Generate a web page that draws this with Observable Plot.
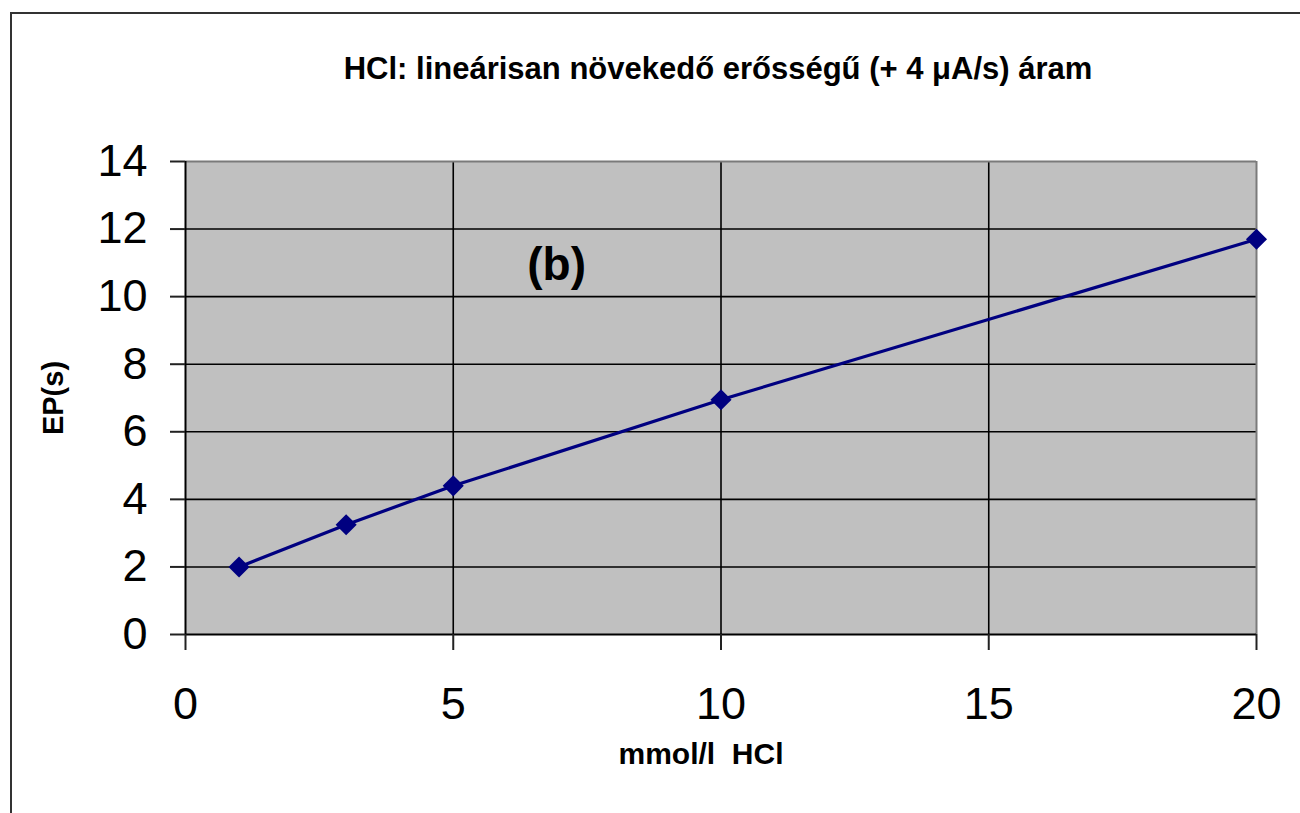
<!DOCTYPE html>
<html>
<head>
<meta charset="utf-8">
<script src="https://cdn.jsdelivr.net/npm/d3@7"></script>
<script src="https://cdn.jsdelivr.net/npm/@observablehq/plot@0.6"></script>
<style>
  html, body { margin: 0; padding: 0; background: #fff; }
  #wrap { position: relative; width: 1300px; height: 813px; overflow: hidden; font-family: "Liberation Sans", Arial, sans-serif; }
  #border { position: absolute; left: 10px; top: 12px; width: 1400px; height: 900px; border-top: 2px solid #333; border-left: 2px solid #333; }
  #title { position: absolute; left: 0; top: 53px; width: 1436px; text-align: center; font-size: 31px; line-height: 1; font-weight: bold; color: #000; }
  #chart { position: absolute; left: 0; top: 0; }
</style>
</head>
<body>
<div id="wrap">
  <div id="border"></div>
  <div id="title">HCl: lineárisan növekedő erősségű (+ 4 μA/s) áram</div>
  <div id="chart"></div>
</div>
<script>
// Measured end point vs. HCl concentration
const concentration = [1, 3, 5, 10, 20];   // mmol/l HCl
const endPoint = [2.0, 3.25, 4.4, 6.95, 11.7]; // EP (s)

const xTicks = [0, 5, 10, 15, 20];
const yTicks = [0, 2, 4, 6, 8, 10, 12, 14];
const panelNote = [{x: 6.93, y: 10.92, label: "(b)"}];

const data = concentration.map((c, i) => ({c, ep: endPoint[i]}));

const font = "'Liberation Sans', Arial, sans-serif";

const chart = Plot.plot({
  width: 1300,
  height: 813,
  marginLeft: 185,
  marginRight: 44,
  marginTop: 161,
  marginBottom: 179,
  style: {fontFamily: font, background: "transparent", overflow: "visible"},
  x: {domain: [0, 20], ticks: xTicks},
  y: {domain: [0, 14], ticks: yTicks},
  marks: [
    Plot.frame({fill: "#c0c0c0", stroke: "none"}),
    // horizontal and vertical gridlines
    Plot.ruleY(yTicks.filter(d => d > 0 && d < 14), {stroke: "#000", strokeWidth: 1.6}),
    Plot.ruleX(xTicks.filter(d => d > 0 && d < 20), {stroke: "#000", strokeWidth: 1.6}),
    // plot area edges: grey top/right, black axes left/bottom
    Plot.ruleY([14], {stroke: "#7a7a7a", strokeWidth: 2}),
    Plot.ruleX([20], {stroke: "#7a7a7a", strokeWidth: 2}),
    Plot.ruleX([0], {stroke: "#000", strokeWidth: 2}),
    Plot.ruleY([0], {stroke: "#000", strokeWidth: 2}),
    Plot.axisY({
      ticks: yTicks, tickSize: 15, tickPadding: 23, stroke: "#222", strokeWidth: 2,
      fontSize: 45, fill: "#000", label: null
    }),
    Plot.axisX({
      ticks: xTicks, tickSize: 16, tickPadding: 37, stroke: "#222", strokeWidth: 2,
      fontSize: 45, fill: "#000", label: null
    }),
    Plot.text(["EP(s)"], {
      frameAnchor: "left", dx: -132, rotate: -90,
      textAnchor: "middle", lineAnchor: "middle",
      fontSize: 29, fontWeight: "bold", fill: "#000"
    }),
    Plot.text(["mmol/l\u00a0\u00a0HCl"], {
      frameAnchor: "bottom", dx: -20, dy: 120,
      textAnchor: "middle", lineAnchor: "middle",
      fontSize: 30, fontWeight: "bold", fill: "#000"
    }),
    Plot.text(panelNote, {
      x: "x", y: "y", text: "label",
      fontSize: 46, fontWeight: "bold", fill: "#000"
    }),
    Plot.line(data, {x: "c", y: "ep", stroke: "#000080", strokeWidth: 3.2}),
    Plot.dot(data, {x: "c", y: "ep", symbol: "diamond2", r: 9.5, fill: "#000080", stroke: "none"})
  ]
});

document.getElementById("chart").appendChild(chart);
</script>
</body>
</html>
